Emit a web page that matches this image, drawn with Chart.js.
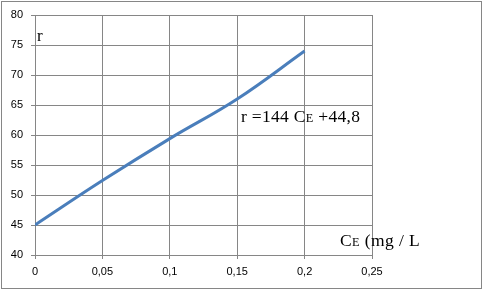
<!DOCTYPE html>
<html>
<head>
<meta charset="utf-8">
<script src="https://cdn.jsdelivr.net/npm/chart.js@4"></script>
<style>
html,body{margin:0;padding:0;background:#fff;}
#wrap{position:relative;width:486px;height:293px;}
</style>
</head>
<body>
<div id="wrap"><canvas id="c" width="486" height="293"></canvas></div>
<script>
const xValues = [0, 0.05, 0.1, 0.15, 0.2];
const rValues = [45, 52.4, 59.4, 66, 74];
const xTickLabels = ['0', '0,05', '0,1', '0,15', '0,2', '0,25'];
const yTickLabels = ['40', '45', '50', '55', '60', '65', '70', '75', '80'];
const yTitle = 'r';
const equationParts = [['r =144 C', 1], ['E', 0.7], [' +44,8', 1]];
const xTitleParts = [['C', 1], ['E', 0.7], [' (mg / L', 1]];

const GRID = '#868686';

function drawParts(ctx, parts, x, y, size, spacing) {
  let cx = x;
  for (const [t, s] of parts) {
    ctx.font = (size * s) + 'px "Liberation Serif", "Times New Roman", serif';
    for (const ch of t) {
      ctx.fillText(ch, cx, y);
      cx += ctx.measureText(ch).width + spacing;
    }
  }
}

const decor = {
  id: 'decor',
  beforeDraw(chart) {
    const ctx = chart.ctx;
    ctx.save();
    ctx.strokeStyle = GRID;
    ctx.lineWidth = 1;
    ctx.strokeRect(1.5, 1.5, 480, 287);
    ctx.restore();
  },
  afterDraw(chart) {
    const ctx = chart.ctx;
    ctx.save();
    ctx.fillStyle = '#000';
    ctx.textBaseline = 'alphabetic';
    ctx.textAlign = 'left';
    ctx.font = '17px "Liberation Serif", "Times New Roman", serif';
    ctx.fillText(yTitle, 37, 41);
    drawParts(ctx, equationParts, 241, 122, 17.5, 0.3);
    drawParts(ctx, xTitleParts, 340, 246, 17.5, 0.4);
    ctx.restore();
  }
};

new Chart(document.getElementById('c'), {
  type: 'line',
  data: {
    datasets: [{
      data: xValues.map((x, i) => ({x: x, y: rValues[i]})),
      borderColor: '#4a7ebb',
      borderWidth: 3,
      pointRadius: 0,
      tension: 0.4,
      fill: false
    }]
  },
  options: {
    responsive: false,
    animation: false,
    devicePixelRatio: 1,
    layout: {padding: {left: 0, right: 114, top: 15, bottom: 0}},
    plugins: {legend: {display: false}, tooltip: {enabled: false}},
    scales: {
      x: {
        type: 'linear', min: 0, max: 0.25,
        afterBuildTicks(axis) {
          axis.ticks = xTickLabels.map((l, i) => ({value: i * 0.05}));
        },
        afterFit(axis) { axis.height = 38; },
        grid: {color: GRID, lineWidth: 1, tickLength: 4, drawTicks: true},
        border: {color: GRID, width: 1},
        ticks: {
          color: '#000', padding: 6, maxRotation: 0, autoSkip: false,
          font: {family: '"Liberation Sans", Arial, sans-serif', size: 11},
          callback: (v, i) => xTickLabels[i]
        }
      },
      y: {
        min: 40, max: 80,
        afterBuildTicks(axis) {
          axis.ticks = yTickLabels.map(l => ({value: Number(l)}));
        },
        afterFit(axis) { axis.width = 35; },
        grid: {color: GRID, lineWidth: 1, tickLength: 4},
        border: {color: GRID, width: 1},
        ticks: {
          color: '#000', padding: 8,
          font: {family: '"Liberation Sans", Arial, sans-serif', size: 11},
          callback: (v, i) => yTickLabels[i]
        }
      }
    }
  },
  plugins: [decor]
});
</script>
</body>
</html>
